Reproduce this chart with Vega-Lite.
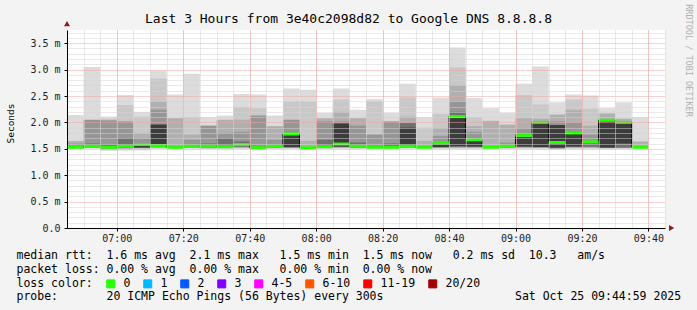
{
  "$schema": "https://vega.github.io/schema/vega-lite/v6.json",
  "width": 598,
  "height": 198,
  "autosize": {"type": "none"},
  "padding": {"left": 67, "top": 30, "right": 32, "bottom": 82},
  "background": "#f3f3f3",
  "title": {"text": "Last 3 Hours from 3e40c2098d82 to Google DNS 8.8.8.8", "font": "DejaVu Sans Mono", "fontSize": 13, "fontWeight": "normal", "color": "#000000", "anchor": "middle", "frame": "group", "dx": -17.5, "dy": 39, "offset": 7, "baseline": "alphabetic"},
  "config": {"view": {"stroke": null, "fill": "#ffffff"}, "font": "DejaVu Sans Mono"},
  "datasets": {
    "bars": [
      {"t":"2025-10-25T06:45Z","e":"2025-10-25T06:50Z","a1":1.50,"b1":2.14,"a3":1.51,"b3":1.65,"a4":1.52,"b4":1.60,"m":1.53,"loss":"0"},
      {"t":"2025-10-25T06:50Z","e":"2025-10-25T06:55Z","a1":1.50,"b1":3.05,"a4":1.52,"b4":2.05,"a5":1.53,"b5":1.60,"m":1.55,"loss":"0"},
      {"t":"2025-10-25T06:55Z","e":"2025-10-25T07:00Z","a1":1.46,"b1":2.11,"a2":1.48,"b2":2.07,"a4":1.50,"b4":2.04,"a5":1.52,"b5":1.58,"m":1.53,"loss":"0"},
      {"t":"2025-10-25T07:00Z","e":"2025-10-25T07:05Z","a1":1.47,"b1":2.52,"a2":1.49,"b2":2.33,"a4":1.51,"b4":2.02,"a5":1.52,"b5":1.70,"m":1.55,"loss":"0"},
      {"t":"2025-10-25T07:05Z","e":"2025-10-25T07:10Z","a1":1.47,"b1":2.20,"a2":1.50,"b2":2.11,"a3":1.52,"b3":1.80,"a4":1.53,"b4":1.70,"a6":1.52,"b6":1.58,"m":1.58,"loss":"0"},
      {"t":"2025-10-25T07:10Z","e":"2025-10-25T07:15Z","a1":1.50,"b1":2.98,"a2":1.51,"b2":2.83,"a3":1.52,"b3":2.40,"a4":1.53,"b4":2.24,"a6":1.54,"b6":1.96,"m":1.56,"loss":"0"},
      {"t":"2025-10-25T07:15Z","e":"2025-10-25T07:20Z","a1":1.50,"b1":2.53,"a3":1.51,"b3":2.08,"m":1.53,"loss":"0"},
      {"t":"2025-10-25T07:20Z","e":"2025-10-25T07:25Z","a1":1.50,"b1":2.92,"a2":1.51,"b2":2.10,"a3":1.52,"b3":1.77,"a4":1.53,"b4":1.67,"m":1.55,"loss":"0"},
      {"t":"2025-10-25T07:25Z","e":"2025-10-25T07:30Z","a1":1.50,"b1":2.10,"a4":1.51,"b4":1.94,"a5":1.53,"b5":1.60,"m":1.55,"loss":"0"},
      {"t":"2025-10-25T07:30Z","e":"2025-10-25T07:35Z","a1":1.50,"b1":2.13,"a3":1.51,"b3":2.05,"a4":1.52,"b4":1.80,"a5":1.53,"b5":1.70,"m":1.54,"loss":"0"},
      {"t":"2025-10-25T07:35Z","e":"2025-10-25T07:40Z","a1":1.50,"b1":2.54,"a2":1.51,"b2":2.29,"a3":1.52,"b3":2.05,"a4":1.53,"b4":1.82,"a5":1.54,"b5":1.64,"m":1.58,"loss":"0"},
      {"t":"2025-10-25T07:40Z","e":"2025-10-25T07:45Z","a1":1.49,"b1":2.53,"a2":1.50,"b2":2.27,"a4":1.51,"b4":2.13,"m":1.52,"loss":"0"},
      {"t":"2025-10-25T07:45Z","e":"2025-10-25T07:50Z","a1":1.50,"b1":2.13,"a3":1.51,"b3":1.93,"a4":1.52,"b4":1.67,"m":1.55,"loss":"0"},
      {"t":"2025-10-25T07:50Z","e":"2025-10-25T07:55Z","a1":1.50,"b1":2.64,"a2":1.51,"b2":2.40,"a4":1.52,"b4":2.05,"a6":1.53,"b6":1.78,"m":1.78,"loss":"0"},
      {"t":"2025-10-25T07:55Z","e":"2025-10-25T08:00Z","a1":1.49,"b1":2.62,"a2":1.50,"b2":2.40,"a3":1.51,"b3":1.65,"m":1.52,"loss":"0"},
      {"t":"2025-10-25T08:00Z","e":"2025-10-25T08:05Z","a1":1.50,"b1":2.18,"a3":1.51,"b3":2.08,"a4":1.52,"b4":2.02,"a5":1.53,"b5":1.67,"m":1.54,"loss":"0"},
      {"t":"2025-10-25T08:05Z","e":"2025-10-25T08:10Z","a1":1.50,"b1":2.64,"a2":1.51,"b2":2.43,"a3":1.52,"b3":2.20,"a4":1.53,"b4":2.02,"a6":1.54,"b6":1.98,"m":1.59,"loss":"0"},
      {"t":"2025-10-25T08:10Z","e":"2025-10-25T08:15Z","a1":1.50,"b1":2.24,"a3":1.51,"b3":2.08,"a4":1.52,"b4":1.94,"a5":1.53,"b5":1.62,"m":1.55,"loss":"0"},
      {"t":"2025-10-25T08:15Z","e":"2025-10-25T08:20Z","a1":1.50,"b1":2.44,"a2":1.51,"b2":2.40,"a4":1.52,"b4":1.77,"m":1.53,"loss":"0"},
      {"t":"2025-10-25T08:20Z","e":"2025-10-25T08:25Z","a1":1.50,"b1":2.18,"a4":1.51,"b4":2.02,"a5":1.52,"b5":1.60,"m":1.53,"loss":"0"},
      {"t":"2025-10-25T08:25Z","e":"2025-10-25T08:30Z","a1":1.50,"b1":2.73,"a2":1.51,"b2":2.47,"a3":1.52,"b3":2.11,"a5":1.53,"b5":1.99,"a6":1.54,"b6":1.90,"m":1.55,"loss":"0"},
      {"t":"2025-10-25T08:30Z","e":"2025-10-25T08:35Z","a1":1.50,"b1":2.10,"a2":1.51,"b2":1.90,"a3":1.52,"b3":1.65,"m":1.53,"loss":"0"},
      {"t":"2025-10-25T08:35Z","e":"2025-10-25T08:40Z","a1":1.50,"b1":2.47,"a2":1.51,"b2":2.16,"a3":1.52,"b3":1.89,"a4":1.53,"b4":1.74,"a6":1.53,"b6":1.61,"m":1.61,"loss":"0"},
      {"t":"2025-10-25T08:40Z","e":"2025-10-25T08:45Z","a1":1.50,"b1":3.42,"a2":1.51,"b2":3.04,"a3":1.52,"b3":2.71,"a4":1.53,"b4":2.40,"a5":1.54,"b5":2.20,"a6":1.55,"b6":2.11,"m":2.11,"loss":"0"},
      {"t":"2025-10-25T08:45Z","e":"2025-10-25T08:50Z","a1":1.50,"b1":2.46,"a2":1.51,"b2":2.10,"a3":1.52,"b3":1.93,"a4":1.53,"b4":1.82,"a6":1.54,"b6":1.67,"m":1.67,"loss":"0"},
      {"t":"2025-10-25T08:50Z","e":"2025-10-25T08:55Z","a1":1.50,"b1":2.27,"a3":1.51,"b3":2.03,"m":1.53,"loss":"0"},
      {"t":"2025-10-25T08:55Z","e":"2025-10-25T09:00Z","a1":1.50,"b1":2.18,"a3":1.51,"b3":1.96,"a4":1.52,"b4":1.62,"m":1.55,"loss":"0"},
      {"t":"2025-10-25T09:00Z","e":"2025-10-25T09:05Z","a1":1.50,"b1":2.73,"a2":1.51,"b2":2.52,"a3":1.52,"b3":2.08,"a4":1.53,"b4":1.89,"a6":1.54,"b6":1.77,"m":1.75,"loss":"0"},
      {"t":"2025-10-25T09:05Z","e":"2025-10-25T09:10Z","a1":1.50,"b1":3.06,"a2":1.51,"b2":2.34,"a3":1.52,"b3":2.07,"a6":1.53,"b6":2.02,"m":2.00,"loss":"0"},
      {"t":"2025-10-25T09:10Z","e":"2025-10-25T09:15Z","a1":1.49,"b1":2.38,"a3":1.50,"b3":2.15,"a4":1.51,"b4":2.02,"a6":1.52,"b6":1.95,"m":1.62,"loss":"0"},
      {"t":"2025-10-25T09:15Z","e":"2025-10-25T09:20Z","a1":1.50,"b1":2.53,"a2":1.51,"b2":2.43,"a3":1.52,"b3":2.24,"a4":1.53,"b4":1.99,"a6":1.54,"b6":1.80,"m":1.80,"loss":"0"},
      {"t":"2025-10-25T09:20Z","e":"2025-10-25T09:25Z","a1":1.50,"b1":2.51,"a2":1.51,"b2":2.26,"a3":1.52,"b3":1.94,"a4":1.53,"b4":1.77,"a5":1.54,"b5":1.64,"m":1.63,"loss":"0"},
      {"t":"2025-10-25T09:25Z","e":"2025-10-25T09:30Z","a1":1.50,"b1":2.27,"a3":1.51,"b3":2.17,"a6":1.52,"b6":2.04,"m":2.04,"loss":"0"},
      {"t":"2025-10-25T09:30Z","e":"2025-10-25T09:35Z","a1":1.50,"b1":2.38,"a3":1.51,"b3":2.07,"a5":1.52,"b5":1.98,"a6":1.60,"b6":1.99,"m":2.00,"loss":"0"},
      {"t":"2025-10-25T09:35Z","e":"2025-10-25T09:40Z","a1":1.50,"b1":2.10,"a3":1.51,"b3":1.64,"m":1.53,"loss":"0"}
    ],
    "arrows": [
      {"t":"2025-10-25T06:45Z","v":3.87,"s":"up"},
      {"t":"2025-10-25T09:47Z","v":0,"s":"right"}
    ]
  },
  "data": {"name": "bars"},
  "encoding": {
    "x": {"field": "t", "type": "temporal", "scale": {"type": "utc", "domain": [1761374700000, 1761385500000]}, "axis": null}
  },
  "layer": [
    {
      "mark": {"type": "rect", "color": "#dcdcdc"},
      "encoding": {
        "x": {
          "field": "t", "type": "temporal", "scale": {"type": "utc", "domain": [1761374700000, 1761385500000]},
          "axis": {
            "orient": "bottom", "zindex": 1,
            "values": [1761374700000,1761375000000,1761375300000,1761375600000,1761375900000,1761376200000,1761376500000,1761376800000,1761377100000,1761377400000,1761377700000,1761378000000,1761378300000,1761378600000,1761378900000,1761379200000,1761379500000,1761379800000,1761380100000,1761380400000,1761380700000,1761381000000,1761381300000,1761381600000,1761381900000,1761382200000,1761382500000,1761382800000,1761383100000,1761383400000,1761383700000,1761384000000,1761384300000,1761384600000,1761384900000,1761385200000,1761385500000],
            "grid": true, "gridColor": "#d4d4d4", "gridDash": [1, 1],
            "labels": false, "ticks": false, "domain": false, "title": null
          }
        },
        "x2": {"field": "e"},
        "y": {
          "field": "a1", "type": "quantitative",
          "scale": {"domain": [0, 3.75], "nice": false, "zero": false},
          "axis": {
            "orient": "left", "zindex": 1,
            "values": [0.1,0.2,0.3,0.4,0.6,0.7,0.8,0.9,1.1,1.2,1.3,1.4,1.6,1.7,1.8,1.9,2.1,2.2,2.3,2.4,2.6,2.7,2.8,2.9,3.1,3.2,3.3,3.4,3.6,3.7],
            "grid": true, "gridColor": "#d4d4d4", "gridDash": [1, 1],
            "labels": false, "ticks": false, "domain": false, "title": null
          }
        },
        "y2": {"field": "b1"}
      }
    },
    {
      "mark": {"type": "rect", "color": "#c8c8c8"},
      "encoding": {
        "x": {
          "field": "t", "type": "temporal", "scale": {"type": "utc", "domain": [1761374700000, 1761385500000]},
          "axis": {
            "orient": "bottom", "zindex": 2,
            "values": [1761375600000,1761376800000,1761378000000,1761379200000,1761380400000,1761381600000,1761382800000,1761384000000,1761385200000],
            "grid": true, "gridColor": "#f4a0a0", "gridDash": [1, 1],
            "labelExpr": "utcFormat(datum.value, '%H:%M')",
            "tickSize": 3, "tickColor": "#000000", "domainColor": "#000000",
            "labelFont": "DejaVu Sans Mono", "labelFontSize": 10, "labelColor": "#222222", "labelPadding": 2,
            "labelOverlap": false, "labelFlush": false,
            "title": [
              "median\u00a0rtt:\u00a0\u00a01.6\u00a0ms\u00a0avg\u00a0\u00a02.1\u00a0ms\u00a0max\u00a0\u00a0\u00a01.5\u00a0ms\u00a0min\u00a0\u00a01.5\u00a0ms\u00a0now\u00a0\u00a0\u00a00.2\u00a0ms\u00a0sd\u00a0\u00a010.3\u00a0\u00a0\u00a0am/s",
              "packet\u00a0loss:\u00a00.00\u00a0%\u00a0avg\u00a0\u00a00.00\u00a0%\u00a0max\u00a0\u00a0\u00a00.00\u00a0%\u00a0min\u00a0\u00a00.00\u00a0%\u00a0now",
              "loss\u00a0color:",
              "probe:\u00a0\u00a0\u00a0\u00a0\u00a0\u00a0\u00a020\u00a0ICMP\u00a0Echo\u00a0Pings\u00a0(56\u00a0Bytes)\u00a0every\u00a0300s\u00a0\u00a0\u00a0\u00a0\u00a0\u00a0\u00a0\u00a0\u00a0\u00a0\u00a0\u00a0\u00a0\u00a0\u00a0\u00a0\u00a0\u00a0\u00a0Sat\u00a0Oct\u00a025\u00a009:44:59\u00a02025"
            ],
            "titleFont": "DejaVu Sans Mono", "titleFontSize": 11.5, "titleFontWeight": "normal", "titleColor": "#000000",
            "titleAlign": "left", "titleAnchor": "start", "titleX": -51, "titleY": 30.5, "titleBaseline": "alphabetic", "titleLineHeight": 13.8
          }
        },
        "x2": {"field": "e"},
        "y": {
          "field": "a2", "type": "quantitative",
          "scale": {"domain": [0, 3.75], "nice": false, "zero": false},
          "axis": {
            "orient": "left", "zindex": 2,
            "values": [0, 0.5, 1, 1.5, 2, 2.5, 3, 3.5],
            "grid": true, "gridColor": "#f4a0a0", "gridDash": [1, 1],
            "labelExpr": "datum.value == 0 ? '0.0' : format(datum.value, '.1f') + ' m'",
            "tickSize": 3, "tickColor": "#000000", "domainColor": "#000000",
            "labelFont": "DejaVu Sans Mono", "labelFontSize": 10, "labelColor": "#222222", "labelPadding": 4,
            "labelOverlap": false, "labelFlush": false,
            "title": "Seconds", "titleFont": "DejaVu Sans Mono", "titleFontSize": 9.5, "titleFontWeight": "normal", "titleColor": "#000000",
            "titleX": -57, "titleY": 93, "titleAngle": -90, "titleAlign": "center", "titleBaseline": "middle"
          }
        },
        "y2": {"field": "b2"}
      }
    },
    {
      "mark": {"type": "rect", "color": "#b0b0b0"},
      "encoding": {"x2": {"field": "e"}, "y": {"field": "a3", "type": "quantitative", "scale": {"domain": [0, 3.75], "nice": false, "zero": false}, "axis": null}, "y2": {"field": "b3"}}
    },
    {
      "mark": {"type": "rect", "color": "#969696"},
      "encoding": {"x2": {"field": "e"}, "y": {"field": "a4", "type": "quantitative", "scale": {"domain": [0, 3.75], "nice": false, "zero": false}, "axis": null}, "y2": {"field": "b4"}}
    },
    {
      "mark": {"type": "rect", "color": "#707070"},
      "encoding": {"x2": {"field": "e"}, "y": {"field": "a5", "type": "quantitative", "scale": {"domain": [0, 3.75], "nice": false, "zero": false}, "axis": null}, "y2": {"field": "b5"}}
    },
    {
      "mark": {"type": "rect", "color": "#3c3c3c"},
      "encoding": {"x2": {"field": "e"}, "y": {"field": "a6", "type": "quantitative", "scale": {"domain": [0, 3.75], "nice": false, "zero": false}, "axis": null}, "y2": {"field": "b6"}}
    },
    {
      "mark": {"type": "line", "interpolate": "step-after", "color": "#000000", "strokeWidth": 1},
      "encoding": {
        "y": {
          "field": "m", "type": "quantitative",
          "scale": {"domain": [0, 3.75], "nice": false, "zero": false},
          "axis": {
            "orient": "right", "labels": false, "ticks": false, "domain": false, "grid": false,
            "title": "RRDTOOL / TOBI OETIKER", "titleFont": "DejaVu Sans Mono", "titleFontSize": 8.5, "titleFontWeight": "normal", "titleColor": "#b0b0b0",
            "titleAngle": 90, "titleX": 23, "titleY": 30, "titleAlign": "center", "titleBaseline": "middle"
          }
        }
      }
    },
    {
      "mark": {"type": "rule", "strokeWidth": 3},
      "encoding": {
        "x2": {"field": "e"},
        "y": {"field": "m", "type": "quantitative", "scale": {"domain": [0, 3.75], "nice": false, "zero": false}, "axis": null},
        "color": {
          "field": "loss", "type": "nominal",
          "scale": {"domain": ["0","1","2","3","4-5","6-10","11-19","20/20"], "range": ["#26ff00","#00b8ff","#0059ff","#7e00ff","#ff00ff","#ff5500","#ff0000","#a10000"]},
          "legend": {
            "orient": "none", "legendX": 38, "legendY": 248, "direction": "horizontal", "columns": 8,
            "title": null,
            "labelFont": "DejaVu Sans Mono", "labelFontSize": 11.5, "labelColor": "#000000", "labelOffset": 7,
            "symbolType": "square", "symbolSize": 64, "symbolStrokeColor": "#000000", "symbolStrokeWidth": 1,
            "columnPadding": 10, "padding": 0,
            "encode": {"symbols": {"update": {"fill": {"scale": "color", "field": "value"}, "stroke": {"value": "#000000"}, "strokeWidth": {"value": 1}, "opacity": {"value": 1}}}}
          }
        }
      }
    },
    {
      "data": {"name": "arrows"},
      "mark": {"type": "point", "filled": true, "color": "#8b1a1a", "opacity": 1, "size": 36},
      "encoding": {
        "y": {"field": "v", "type": "quantitative", "scale": {"domain": [0, 3.75], "nice": false, "zero": false}, "axis": null},
        "shape": {"field": "s", "type": "nominal", "scale": {"domain": ["up","right"], "range": ["triangle-up","triangle-right"]}, "legend": null}
      }
    }
  ],
  "resolve": {"axis": {"x": "independent", "y": "independent"}}
}
